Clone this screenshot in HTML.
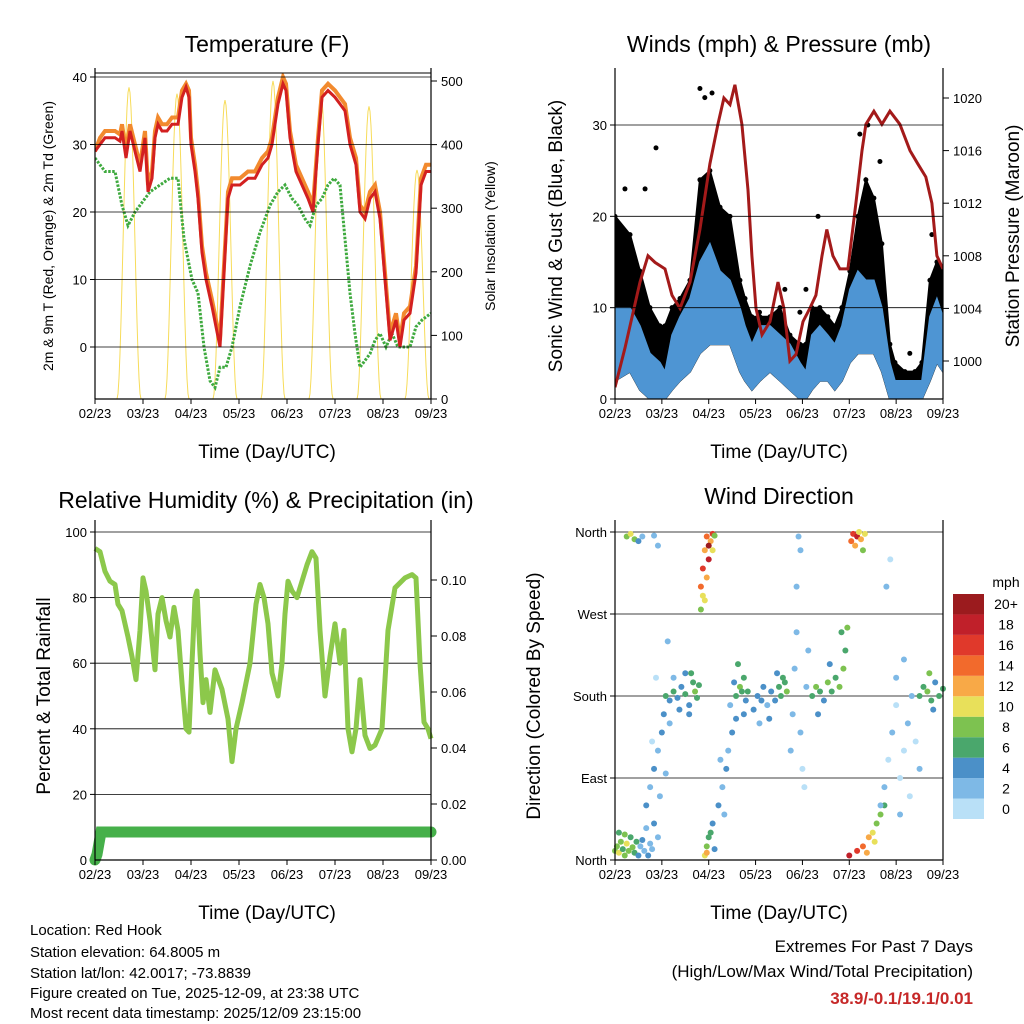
<!DOCTYPE html>
<html><head><meta charset="utf-8"><style>
html,body{margin:0;padding:0;background:#fff;}
svg{display:block;font-family:"Liberation Sans",Arial,sans-serif;}
</style></head><body>
<svg id="c" width="1024" height="1024" viewBox="0 0 1024 1024" xmlns="http://www.w3.org/2000/svg">
<rect x="0" y="0" width="1024" height="1024" fill="#fff"/>
<text x="267" y="52" font-size="23" text-anchor="middle">Temperature (F)</text>
<text x="779" y="52" font-size="23" text-anchor="middle">Winds (mph) &amp; Pressure (mb)</text>
<text x="266" y="508" font-size="23" text-anchor="middle">Relative Humidity (%) &amp; Precipitation (in)</text>
<text x="779" y="504" font-size="23" text-anchor="middle">Wind Direction</text>
<text x="267" y="458" font-size="19" text-anchor="middle">Time (Day/UTC)</text>
<text x="779" y="458" font-size="19" text-anchor="middle">Time (Day/UTC)</text>
<text x="267" y="919" font-size="19" text-anchor="middle">Time (Day/UTC)</text>
<text x="779" y="919" font-size="19" text-anchor="middle">Time (Day/UTC)</text>
<text transform="translate(53,236) rotate(-90)" font-size="14" text-anchor="middle">2m &amp; 9m T (Red, Orange) &amp; 2m Td (Green)</text>
<text transform="translate(495,236) rotate(-90)" font-size="14" text-anchor="middle">Solar Insolation (Yellow)</text>
<text transform="translate(562,236) rotate(-90)" font-size="19" text-anchor="middle">Sonic Wind &amp; Gust (Blue, Black)</text>
<text transform="translate(1019,236) rotate(-90)" font-size="19" text-anchor="middle">Station Pressure (Maroon)</text>
<text transform="translate(50,696) rotate(-90)" font-size="19" text-anchor="middle">Percent &amp; Total Rainfall</text>
<text transform="translate(540,696) rotate(-90)" font-size="19" text-anchor="middle">Direction (Colored By Speed)</text>
<g font-size="15">
<text x="30" y="935">Location: Red Hook</text>
<text x="30" y="957">Station elevation: 64.8005 m</text>
<text x="30" y="978">Station lat/lon: 42.0017; -73.8839</text>
<text x="30" y="998">Figure created on Tue, 2025-12-09, at 23:38 UTC</text>
<text x="30" y="1018">Most recent data timestamp: 2025/12/09 23:15:00</text>
</g>
<g text-anchor="end">
<text x="973" y="952" font-size="17">Extremes For Past 7 Days</text>
<text x="973" y="977" font-size="17">(High/Low/Max Wind/Total Precipitation)</text>
<text x="973" y="1004" font-size="17" font-weight="bold" fill="#c62828">38.9/-0.1/19.1/0.01</text>
</g>
<g id="layers"></g>
</svg>
<script>
// ---- Temperature panel data ----
const tempHours = [0,2.5,5,10,12.5,13.5,15.5,17.5,20,22.5,25,26.5,28.5,30,31.5,33.5,36,38.5,41.5,43.5,45.5,47,48,50,51.5,53.5,55.5,58.5,60.5,62.5,64.5,66.5,68.5,72.5,76.5,80,83.5,86.5,88.5,91.5,94,95.5,97.5,100.5,103.5,106.5,109,111.5,113.5,116.5,120,122.5,125,127.5,130.5,132.5,135,137.5,140,142.5,145,147.5,150.5,152.5,154.5,157.5,160.5,163,165.5,168];
const temp2m = [29,30,31,31,30.5,32,28,32,29,26,31,23,25,31,33,32,32,33,33,37,38.5,37,30,26,22,14,10,6,3,0,11,22,24,24,25,25,27,28,30,36,39,38,31,26,24,22,20,30,37,38,37,36,35,30,27,20,19,22,23,19,10,1,4,0,4,5,11,24,26,26];
const temp9m = [29,31,32,32,31.5,33,29,33,30,27,32,24,26,32,34,33,33,34,34,38,39,38,31,27,23,15,11,7,4,1,12,23,25,25,26,26,28,29,31,37,40,39,32,27,25,23,21,31,38,39,38,37,36,31,28,21,20,23,24,20,11,2,5,1,5,6,12,25,27,27];
const dewHours = [0,5,10,13.5,16.5,20,22.5,27.5,32.5,37.5,41.5,44.5,46.5,48.5,51.5,54.5,57.5,60,62.5,65.5,68.5,72.5,77.5,82.5,87.5,91.5,95,98.5,101.5,105,107.5,110.5,113.5,116.5,119.5,122.5,125,127.5,130,132.5,135,137.5,140,142.5,145.5,148.5,151.5,154.5,157.5,160.5,163.5,168];
const dewPoint = [28,26,26,21,18,20,21,23,24,25,25,16,13,10,8,0,-5,-6,-3,-3,0,6,12,17,21,23,24,22,21,19,18,21,22,24,25,24,16,8,2,-3,-2,-1,1,2,0,2,0,0,0,3,4,5];
const solarPeakHours = [17,41,65,89,113,137,161];
const solarPeakValues = [490,480,470,500,480,460,360];
const timeTickLabels = ["02/23","03/23","04/23","05/23","06/23","07/23","08/23","09/23"];
const tempTicks = [0,10,20,30,40];
const solarTicks = [0,100,200,300,400,500];
// ---- Winds panel data ----
const pressHours = [0,5.1,12.8,16.9,20.5,25.6,29.2,33.3,38.4,43.5,48.6,52.7,55.8,58.9,61.4,65,68.1,70.1,72.2,75.3,79.4,83.5,86.5,89.6,92.7,96.3,99.8,102.9,106,108.5,111.6,115.2,119.3,123.4,126.5,128.5,132.6,136.7,140.8,145.9,151.1,155.1,159.2,162.3,164.9,168];
const pressure = [998,1001,1006,1008,1007.5,1007,1005,1004,1006,1010,1015,1018,1020,1019.5,1021,1018,1013,1008,1004,1002,1003,1006,1004,1000,1000.5,1003,1004,1005,1008,1010,1008,1007,1007,1012,1016,1018,1019,1018,1019,1018,1016,1015,1014,1012,1008,1007];
const windHours = [0,7.7,12.8,17.9,23,25.6,29.2,33.3,38.4,43.5,48.6,53.8,58.9,64,66.6,70.1,74.2,79.4,84.5,89.6,94.7,97.8,100.8,104.9,109,112.6,116.2,120.3,124.4,128.5,132.6,136.7,140.8,143.4,148.5,153.6,157.2,161.3,164.9,168];
const windHi = [10,10,8,5,4,3,7,9,11,15,17,14,13,10,8,6,8,8,7,6,4,3,7,8,7,6,8,12,14,13,13,10,4,2,2,2,2,9,11,9];
const windLo = [2,3,1,0,0,0,1,2,3,5,6,6,6,3,2,1,2,3,2,1,0,0,1,2,2,1,2,4,5,5,5,3,0,0,0,0,0,2,4,3];
const gustHi = [20,18,14,10,8,8,10,11,13,24,25,21,20,13,11,9,9,9,10,7,6,6,10,10,9,8,10,14,20,24,22,17,6,4,3,3,4,13,15,14];
const gustOutHours = [43.5,46,49.7,21,125.4,129.5,104,97.8,162.3,15.4,5.1,135.7,74,94.7,151,87];
const gustOut = [34,33,33.5,27.5,29,30,20,12,18,23,23,26,9.5,9.5,5,12];
const windTicks = [0,10,20,30];
const pressTicks = [1000,1004,1008,1012,1016,1020];
// ---- Humidity panel data ----
const rhHours = [0,2.5,5,7.5,10,11.5,13.5,16.5,18.5,20.5,22.5,24,25.5,27.5,30,31.5,33.5,35.5,37.5,39.5,41.5,43.5,45.5,47,48.5,50,51,52.5,54,55.5,57.5,60,63.5,66.5,68.5,70.5,73.5,77.5,80.5,82.5,84.5,86.5,88.5,91.5,93.5,95,96.5,98.5,101,103.5,106,108.5,110.5,112.5,115,117.5,120,122.5,124.5,126.5,128.5,130.5,132.5,135,137.5,140,143.5,146.5,150,155,158.5,160.5,162.5,164.5,166.5,168];
const rh = [95,94,88,85,84,78,76,68,62,55,70,86,82,73,58,75,80,73,68,77,70,54,40,39,60,80,82,63,48,55,45,58,52,43,30,40,48,60,78,84,80,72,57,50,60,75,85,82,80,85,90,94,92,70,50,62,72,60,70,40,33,40,55,38,34,35,40,70,83,86,87,86,60,42,40,37];
const precipHours = [0,1,3,168];
const precip = [0,0.002,0.01,0.01];
const rhTicks = [0,20,40,60,80,100];
const precipTicks = ["0.00","0.02","0.04","0.06","0.08","0.10"];
// ---- Wind direction data ----
const dirTicks = [0,90,180,270,360];
const dirTickLabels = ["North","East","South","West","North"];
const speedBins = ["0","2","4","6","8","10","12","14","16","18","20+"];
const dirHours = [0,1,2,3,4,5,6,7,8,9,10,11,2,5,12,13,14,15,16,17,18,19,20,22,
6,8,10,12,14,20,22,
16,18,20,22,24,25,26,28,23,19,21,27,
26,28,30,32,34,36,38,40,41,42,43,36,30,33,38,39,
44,45,46,47,48,49,50,45,47,46,48,50,51,44,
46,47,48,49,50,47,51,
53,55,57,58,60,62,56,59,54,
62,64,65,66,67,68,63,66,61,
71,73,75,76,78,80,82,84,85,87,88,86,74,79,83,
90,91,92,93,95,96,98,99,94,95,93,97,
101,103,105,107,109,111,113,115,117,118,119,116,104,110,
121,122,123,124,125,126,127,128,
120,124,127,130,132,134,136,138,129,133,
138,140,142,144,146,148,150,152,154,156,144,148,139,141,146,151,136,
156,158,160,162,164,166,168,161,163];
const dirDeg = [10,15,8,20,12,5,18,10,25,14,8,20,30,28,5,15,22,10,35,5,18,12,40,25,
355,358,352,350,355,356,345,
60,80,100,120,140,160,95,150,70,130,200,240,
180,175,185,178,190,182,170,195,185,178,192,205,200,165,160,205,
300,320,340,355,330,350,358,290,310,285,345,340,356,275,
5,15,25,30,40,8,12,
60,80,100,120,140,155,50,170,110,
180,190,185,200,175,185,215,160,195,
165,180,175,190,170,185,175,190,180,195,185,200,150,155,205,
120,160,210,250,140,100,190,230,355,340,300,80,
180,190,185,175,195,185,200,190,210,230,255,250,160,215,
350,358,345,355,360,352,340,358,
5,10,15,25,30,40,50,60,8,20,
80,110,140,170,90,120,150,180,130,100,200,220,300,330,50,70,60,
180,190,185,175,195,180,188,205,165];
const dirSpeed = [8,9,10,8,7,9,10,8,7,9,6,7,6,8,4,3,4,2,3,4,3,2,4,3,
9,11,8,5,3,2,3,
4,3,4,3,4,5,2,3,2,1,1,3,
6,5,6,4,5,7,5,6,8,7,7,4,3,4,4,7,
14,16,12,14,18,12,16,11,13,10,20,10,8,9,
10,8,7,6,5,12,4,
4,3,4,3,4,5,2,3,2,
7,8,6,7,5,6,7,4,5,
4,5,4,5,3,4,5,6,6,7,8,7,3,4,4,
2,3,2,3,2,1,3,2,2,3,2,1,
7,8,6,5,8,7,6,9,8,7,8,6,4,5,
14,16,12,18,11,13,9,10,
18,16,14,12,11,9,8,7,13,10,
2,1,2,1,0,1,2,2,1,3,2,3,2,1,2,1,3,
6,7,8,6,5,7,6,8,4];
const speedColors = ["#b9e0f7","#7eb9e6","#4b90c8","#4aa76c","#7dc250","#e8e05a","#f8a947","#f26a2c","#e0392b","#c0202a","#9b1b1e"];

const NS = "http://www.w3.org/2000/svg";
const root = document.getElementById("layers");
function add(parent, tag, name, attrs, txt) {
  const el = document.createElementNS(NS, tag);
  
  
  for (const k in attrs) el.setAttribute(k, attrs[k]);
  if (txt !== undefined) el.textContent = txt;
  parent.appendChild(el);
  return el;
}
function scale(d0, d1, r0, r1) { return v => r0 + (v - d0) / (d1 - d0) * (r1 - r0); }
function linePath(xs, ys, fx, fy) {
  return xs.map((h, i) => (i ? "L" : "M") + fx(h).toFixed(1) + "," + fy(ys[i]).toFixed(1)).join(" ");
}
function bandPath(xs, lo, hi, fx, fy) {
  let d = xs.map((h, i) => (i ? "L" : "M") + fx(h).toFixed(1) + "," + fy(hi[i]).toFixed(1)).join(" ");
  for (let i = xs.length - 1; i >= 0; i--) d += " L" + fx(xs[i]).toFixed(1) + "," + fy(lo[i]).toFixed(1);
  return d + " Z";
}
function frame(g, name, x0, x1, y0, y1, fx, hasRight) {
  add(g, "line", name + "-left-axis", {x1:x0, y1:y0, x2:x0, y2:y1, stroke:"#000", "stroke-width":1.2});
  add(g, "line", name + "-bottom-axis", {x1:x0, y1:y1, x2:x1, y2:y1, stroke:"#000", "stroke-width":1.2});
  add(g, "line", name + "-right-axis", {x1:x1, y1:y0, x2:x1, y2:y1, stroke:"#000", "stroke-width":1.2});
  timeTickLabels.forEach((lab, i) => {
    const x = fx(i * 24);
    add(g, "line", name + "-x-tick", {x1:x, y1:y1, x2:x, y2:y1 + 5, stroke:"#000"});
    add(g, "text", name + "-x-tick-label", {x:x, y:y1 + 19, "font-size":13, "text-anchor":"middle"}, lab);
  });
}
function leftTicks(g, name, vals, labels, fy, x0, x1) {
  vals.forEach((v, i) => {
    const y = fy(v);
    add(g, "line", name + "-gridline", {x1:x0, y1:y, x2:x1, y2:y, stroke:"#000", "stroke-width":0.8});
    add(g, "line", name + "-y-tick", {x1:x0 - 5, y1:y, x2:x0, y2:y, stroke:"#000"});
    add(g, "text", name + "-y-tick-label", {x:x0 - 8, y:y + 5, "font-size":13, "text-anchor":"end"}, labels[i]);
  });
}
function rightTicks(g, name, vals, labels, fy, x1) {
  vals.forEach((v, i) => {
    const y = fy(v);
    add(g, "line", name + "-right-tick", {x1:x1, y1:y, x2:x1 + 6, y2:y, stroke:"#000"});
    add(g, "text", name + "-right-tick-label", {x:x1 + 10, y:y + 5, "font-size":13}, labels[i]);
  });
}

// ===== Temperature =====
(function(){
  const g = add(root, "g", "temperature-chart", {});
  const fx = scale(0, 168, 95, 431), fy = scale(0, 40, 347, 77), fs = scale(0, 500, 399, 81);
  add(g, "clipPath", "temp-clip", {id:"ct"});
  add(g.lastChild, "rect", "temp-clip-rect", {x:95, y:73, width:336, height:326});
  const clip = add(g, "g", "temp-plot-area", {"clip-path":"url(#ct)"});
  leftTicks(g, "temp", tempTicks, tempTicks.map(String), fy, 95, 431);
  rightTicks(g, "solar", solarTicks, solarTicks.map(String), fs, 431);
  // solar bells
  solarPeakHours.forEach((ph, i) => {
    let d = "";
    for (let k = -6; k <= 6; k += 0.5) {
      const v = solarPeakValues[i] * Math.pow(Math.cos(k / 6 * Math.PI / 2), 2);
      d += (d ? " L" : "M") + fx(ph + k).toFixed(1) + "," + fs(v).toFixed(1);
    }
    add(clip, "path", "solar-insolation-day", {d:d, fill:"none", stroke:"#f7dc5a", "stroke-width":1});
  });
  add(clip, "path", "dewpoint-line", {d:linePath(dewHours, dewPoint, fx, fy), fill:"none", stroke:"#3faa3f", "stroke-width":3, "stroke-dasharray":"2.5 1.5"});
  add(clip, "path", "temp-9m-line", {d:linePath(tempHours, temp9m, fx, fy), fill:"none", stroke:"#f28a2e", "stroke-width":4});
  add(clip, "path", "temp-2m-line", {d:linePath(tempHours, temp2m, fx, fy), fill:"none", stroke:"#d32020", "stroke-width":3});
  frame(g, "temp", 95, 431, 68, 399, fx);
  add(g, "line", "temp-top-axis", {x1:95, y1:73, x2:431, y2:73, stroke:"#000"});
})();

// ===== Winds =====
(function(){
  const g = add(root, "g", "winds-chart", {});
  const fx = scale(0, 168, 615, 943), fy = scale(0, 30, 399, 125), fp = scale(1000, 1020, 361, 98);
  add(g, "clipPath", "wind-clip", {id:"cw"});
  add(g.lastChild, "rect", "wind-clip-rect", {x:615, y:68, width:328, height:331});
  const clip = add(g, "g", "winds-plot-area", {"clip-path":"url(#cw)"});
  leftTicks(g, "wind", windTicks, windTicks.map(String), fy, 615, 943);
  rightTicks(g, "pressure", pressTicks, pressTicks.map(String), fp, 943);
  add(clip, "path", "gust-band", {d:bandPath(windHours, windLo, gustHi, fx, fy), fill:"#000", stroke:"#000", "stroke-width":2});
  windHours.forEach((h, i) => {
    const el = add(clip, "circle", "gust-point", {cx:fx(h), cy:fy(gustHi[i]), r:2.5, fill:"#000"});
  });
  gustOutHours.forEach((h, i) => {
    add(clip, "circle", "gust-outlier-point", {cx:fx(h), cy:fy(gustOut[i]), r:2.5, fill:"#000"});
  });
  add(clip, "path", "wind-speed-band", {d:bandPath(windHours, windLo, windHi, fx, fy), fill:"#4e95d3", stroke:"#4e95d3", "stroke-width":1.5});
  add(clip, "path", "pressure-line", {d:linePath(pressHours, pressure, fx, fp), fill:"none", stroke:"#a31a1a", "stroke-width":3});
  frame(g, "winds", 615, 943, 68, 399, fx);
})();

// ===== Humidity =====
(function(){
  const g = add(root, "g", "humidity-chart", {});
  const fx = scale(0, 168, 95, 431), fy = scale(0, 100, 860, 532), fp = scale(0, 0.1, 860, 580);
  leftTicks(g, "rh", rhTicks, rhTicks.map(String), fy, 95, 431);
  rightTicks(g, "precip", precipTicks.map(Number), precipTicks, fp, 431);
  add(g, "path", "rh-line", {d:linePath(rhHours, rh, fx, fy), fill:"none", stroke:"#8cc84b", "stroke-width":5, "stroke-linejoin":"round"});
  add(g, "path", "precip-line", {d:linePath(precipHours, precip, fx, fp), fill:"none", stroke:"#46b04a", "stroke-width":11, "stroke-linecap":"round"});
  frame(g, "rh", 95, 431, 520, 860, fx);
})();

// ===== Wind direction =====
(function(){
  const g = add(root, "g", "wind-direction-chart", {});
  const fx = scale(0, 168, 615, 943), fy = scale(0, 360, 860, 532);
  leftTicks(g, "dir", dirTicks, dirTickLabels, fy, 615, 943);
  dirHours.forEach((h, i) => {
    const bin = Math.min(10, Math.floor(dirSpeed[i] / 2));
    add(g, "circle", "direction-point", {cx:fx(h), cy:fy(dirDeg[i]), r:3, fill:speedColors[bin]});
  });
  frame(g, "dir", 615, 943, 520, 860, fx);
  const top = 594, bh = (819 - 594) / speedBins.length;
  add(g, "text", "colorbar-unit-label", {x:1006, y:587, "font-size":14, "text-anchor":"middle"}, "mph");
  speedBins.forEach((lab, i) => {
    const y = 819 - (i + 1) * bh;
    add(g, "rect", "colorbar-swatch", {x:953, y:y, width:31, height:bh, fill:speedColors[i]});
    add(g, "text", "colorbar-label", {x:1006, y:y + bh / 2 + 5, "font-size":14, "text-anchor":"middle"}, lab);
  });
})();
</script>
</body></html>
